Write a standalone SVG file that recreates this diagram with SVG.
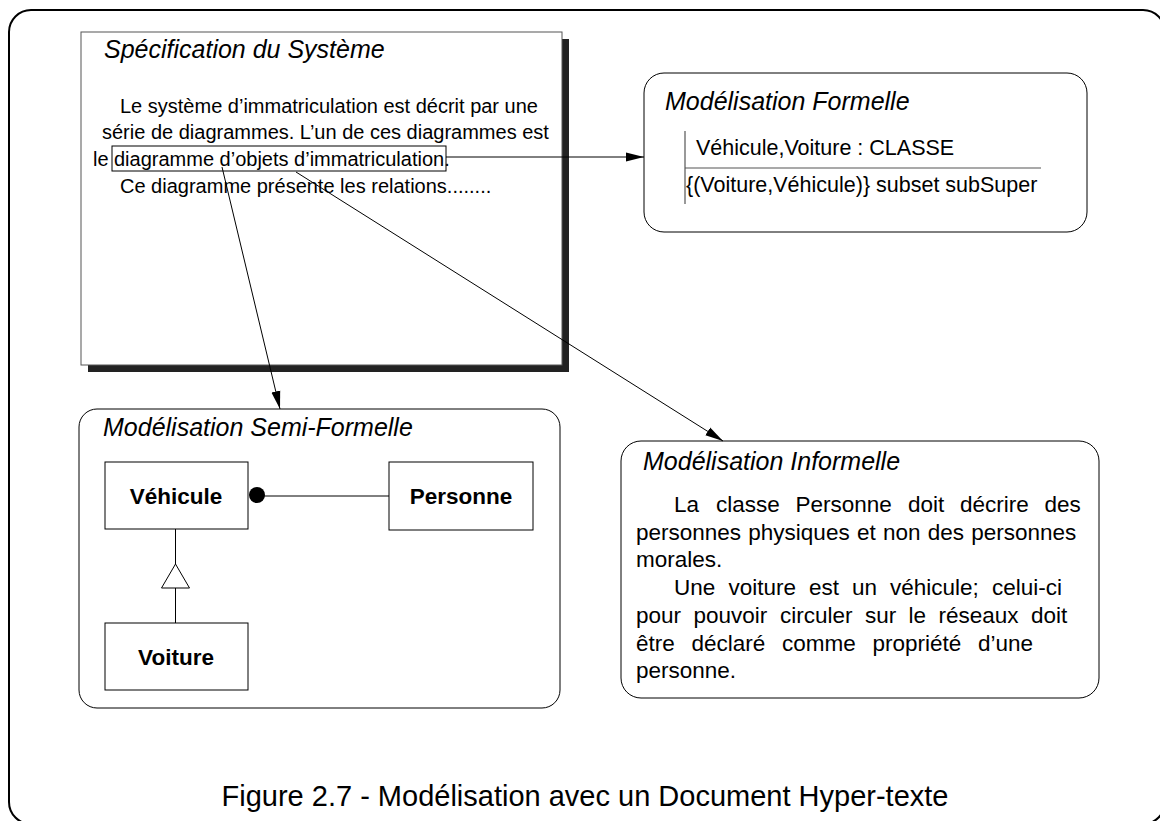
<svg xmlns="http://www.w3.org/2000/svg" width="1160" height="821" viewBox="0 0 1160 821">
<style>
.t{font-family:"Liberation Sans",Arial,sans-serif;fill:#000}
.it{font-style:italic;font-size:25px}
.sb{font-size:20px}
.fb{font-size:21.5px}
.ib{font-size:22.5px}
.bold{font-weight:bold;font-size:22.5px}
.ln{stroke:#000;stroke-width:1;fill:none}
.box{fill:#fff;stroke:#000;stroke-width:1}
</style>
<defs>
<marker id="ah" markerWidth="18" markerHeight="10" refX="18" refY="5" orient="auto" markerUnits="userSpaceOnUse">
<path d="M0,0.5 L18,5 L0,9.5 Z" fill="#000"/>
</marker>
</defs>
<rect id="frame" x="9" y="10" width="1156" height="814" rx="22" fill="#fff" stroke="#000" stroke-width="2"/>

<g id="spec">
<rect x="88" y="39" width="481" height="333" fill="#222"/>
<rect x="81" y="32" width="481" height="333" fill="#fff" stroke="#555" stroke-width="1"/>
<text class="t it" x="104" y="58">Spécification du Système</text>
<text class="t sb" x="120" y="113">Le système d’immatriculation est décrit par une</text>
<text class="t sb" x="102" y="139">série de diagrammes. L’un de ces diagrammes est</text>
<text class="t sb" x="93" y="166">le <tspan x="114">diagramme d’objets d’immatriculation</tspan>.</text>
<rect x="112" y="146" width="334" height="25" fill="none" stroke="#000" stroke-width="1"/>
<text class="t sb" x="120" y="193">Ce diagramme présente les relations........</text>
</g>

<g id="formelle">
<rect class="box" x="644" y="73" width="443" height="159" rx="20"/>
<text class="t it" x="665" y="110" font-size="22.5">Modélisation Formelle</text>
<line x1="685" y1="131" x2="685" y2="204" stroke="#555" stroke-width="1.2"/>
<line x1="685" y1="168" x2="1041" y2="168" stroke="#555" stroke-width="1.2"/>
<text class="t fb" x="696" y="155">Véhicule,Voiture : CLASSE</text>
<text class="t fb" x="686" y="192">{(Voiture,Véhicule)} subset subSuper</text>
</g>

<g id="semiformelle">
<rect class="box" x="79" y="409" width="481" height="299" rx="18"/>
<text class="t it" x="103" y="436">Modélisation Semi-Formelle</text>
<g id="vehicule">
<rect class="box" x="105" y="462" width="143" height="67"/>
<text class="t bold" x="176" y="504" text-anchor="middle">Véhicule</text>
</g>
<g id="personne">
<rect class="box" x="389" y="462" width="144" height="68"/>
<text class="t bold" x="461" y="504" text-anchor="middle">Personne</text>
</g>
<g id="voiture">
<rect class="box" x="105" y="623" width="143" height="67"/>
<text class="t bold" x="176" y="665" text-anchor="middle">Voiture</text>
</g>
<g id="uml-links">
<line class="ln" x1="257" y1="496" x2="389" y2="496"/>
<circle cx="257" cy="495" r="8" fill="#000"/>
<line class="ln" x1="175.5" y1="529" x2="175.5" y2="564"/>
<path d="M175.5,564 L189.5,588 L161.5,588 Z" fill="#fff" stroke="#000"/>
<line class="ln" x1="175.5" y1="588" x2="175.5" y2="623"/>
</g>
</g>

<g id="informelle">
<rect class="box" x="621" y="441" width="478" height="257" rx="20"/>
<text class="t it" x="643" y="470">Modélisation Informelle</text>
<text class="t ib" y="512"><tspan x="674">La</tspan><tspan x="716">classe</tspan><tspan x="795.5">Personne</tspan><tspan x="908">doit</tspan><tspan x="960">décrire</tspan><tspan x="1044.5">des</tspan></text>
<text class="t ib" x="636" y="540" word-spacing="1">personnes physiques et non des personnes</text>
<text class="t ib" x="636" y="567">morales.</text>
<text class="t ib" y="595"><tspan x="674">Une</tspan><tspan x="728.5">voiture</tspan><tspan x="809">est</tspan><tspan x="852">un</tspan><tspan x="890">véhicule;</tspan><tspan x="992">celui-ci</tspan></text>
<text class="t ib" y="623"><tspan x="636">pour</tspan><tspan x="693.5">pouvoir</tspan><tspan x="780">circuler</tspan><tspan x="865">sur</tspan><tspan x="908.5">le</tspan><tspan x="938.5">réseaux</tspan><tspan x="1031">doit</tspan></text>
<text class="t ib" y="651"><tspan x="636">être</tspan><tspan x="691.5">déclaré</tspan><tspan x="782">comme</tspan><tspan x="872.5">propriété</tspan><tspan x="978">d’une</tspan></text>
<text class="t ib" x="636" y="678">personne.</text>
</g>

<g id="connectors">
<line class="ln" x1="446" y1="157" x2="644" y2="157" stroke="#333" marker-end="url(#ah)"/>
<line class="ln" x1="222" y1="167" x2="280" y2="409" marker-end="url(#ah)"/>
<line class="ln" x1="296" y1="172" x2="723" y2="441" marker-end="url(#ah)"/>
</g>

<text id="caption" class="t" x="585" y="806" font-size="29" text-anchor="middle">Figure 2.7 - Modélisation avec un Document Hyper-texte</text>
</svg>
